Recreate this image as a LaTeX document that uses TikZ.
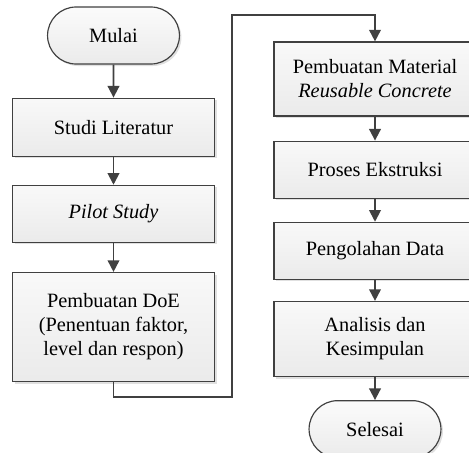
\documentclass[tikz,border=0pt]{standalone}
\usepackage{fontspec}
\setmainfont{Liberation Serif}
\usepackage{tikz}
\usetikzlibrary{arrows.meta, positioning, shapes.misc, shadows}
\definecolor{garis}{HTML}{404040}

\begin{document}
\begin{tikzpicture}[x=0.6pt, y=-0.6pt, >=Triangle,
    font=\fontsize{12.2}{14.4}\selectfont,
    proses/.style={draw=garis, line width=0.7pt, top color=gray!5, bottom color=gray!16,
        minimum width=121.2pt, align=center, inner sep=2pt,
        drop shadow={shadow xshift=1.2pt, shadow yshift=-1.2pt, fill=black, opacity=0.12}},
    terminal/.style={draw=garis, line width=0.7pt, rounded rectangle, top color=gray!3, bottom color=gray!16,
        minimum width=85.8pt, minimum height=34.2pt,
        drop shadow={shadow xshift=1.2pt, shadow yshift=-1.2pt, fill=black, opacity=0.12}},
    panah/.style={->, draw=garis, line width=1.1pt, arrows={-Triangle[length=7pt, width=7pt]}}]
    \useasboundingbox (0,0) rectangle (469,452);
    \clip (0,0) rectangle (469,452);

    % kolom kiri
    \node[terminal] (mulai) at (113.5,35.5) {Mulai};
    \node[proses, minimum height=34.8pt, below=19.8pt of mulai] (studi) {Studi Literatur};
    \node[proses, minimum height=34.2pt, below=16.8pt of studi] (pilot) {\textit{Pilot Study}};
    \node[proses, minimum height=65.4pt, below=17.4pt of pilot] (doe) {Pembuatan DoE\\(Penentuan faktor,\\level dan respon)};

    % kolom kanan
    \node[proses, minimum height=44.4pt] (material) at (375,79) {Pembuatan Material\\\textit{Reusable Concrete}};
    \node[proses, minimum height=34.2pt, below=14.4pt of material] (ekstrusi) {Proses Ekstruksi};
    \node[proses, minimum height=34.2pt, below=13.8pt of ekstrusi] (olah) {Pengolahan Data};
    \node[proses, minimum height=45pt, below=12.6pt of olah] (analisis) {Analisis dan\\Kesimpulan};
    \node[terminal, below=13.8pt of analisis] (selesai) {Selesai};

    \coordinate (belok1) at (232,397);
    \coordinate (belok2) at (232,15);

    \draw[panah] (mulai) -- (studi);
    \draw[panah] (studi) -- (pilot);
    \draw[panah] (pilot) -- (doe);
    \draw[panah] (doe.south) |- (belok1) -- (belok2) -| (material.north);
    \draw[panah] (material) -- (ekstrusi);
    \draw[panah] (ekstrusi) -- (olah);
    \draw[panah] (olah) -- (analisis);
    \draw[panah] (analisis) -- (selesai);
\end{tikzpicture}
\end{document}
